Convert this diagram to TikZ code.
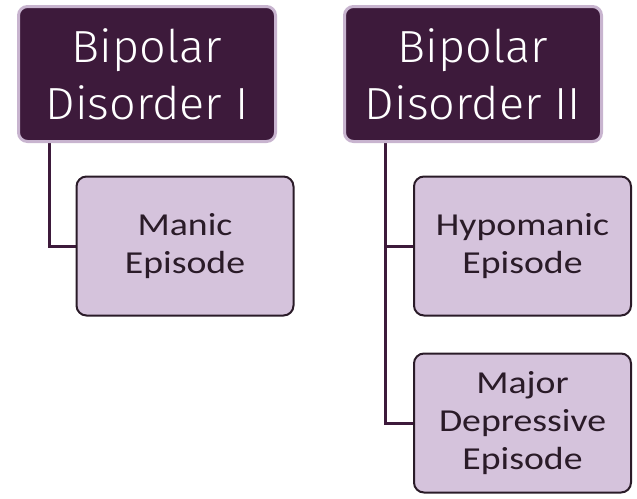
\documentclass[tikz,border=0pt]{standalone}
\usepackage{fontspec}
\usetikzlibrary{backgrounds}
\setmainfont{Carlito}
\newfontfamily\topfont{Fira Sans Light}[FakeStretch=1.04]
\newfontfamily\subfont{Carlito}[FakeStretch=1.18]
\definecolor{plum}{HTML}{3D1A3B}
\definecolor{lavline}{HTML}{C8B4CF}
\definecolor{lavfill}{HTML}{D5C3DC}
\definecolor{inkdark}{HTML}{2A1B28}
\tikzset{
  x=1pt, y=-1pt,
  topbox/.style={draw=lavline, fill=plum, line width=3pt, rounded corners=9pt,
    minimum width=257pt, minimum height=135pt, inner sep=0pt, align=center,
    text=white, font=\topfont\fontsize{45}{57}\selectfont},
  subbox/.style={draw=inkdark, fill=lavfill, line width=2pt, rounded corners=10pt,
    minimum width=217pt, minimum height=139pt, inner sep=0pt, align=center,
    text=inkdark, font=\subfont\fontsize{32}{38}\selectfont},
  conn/.style={draw=plum, line width=3pt}
}
\begin{document}
\begin{tikzpicture}
\useasboundingbox (0,0) rectangle (637,498);
\node[topbox] (b1) at (147,74) {Bipolar\\Disorder I};
\node[topbox] (b2) at (473,74) {Bipolar\\Disorder II};
\node[subbox] (m) at (185,246) {Manic\\Episode};
\node[subbox] (h) at (522.5,246) {Hypomanic\\Episode};
\node[subbox] (d) at (522.5,423) {Major\\Depressive\\Episode};
\begin{scope}[on background layer]
\draw[conn] ([xshift=32pt]b1.south west) |- (m.west);
\draw[conn] ([xshift=42pt]b2.south west) |- (h.west);
\draw[conn] ([xshift=42pt]b2.south west) |- (d.west);
\end{scope}
\end{tikzpicture}
\end{document}
